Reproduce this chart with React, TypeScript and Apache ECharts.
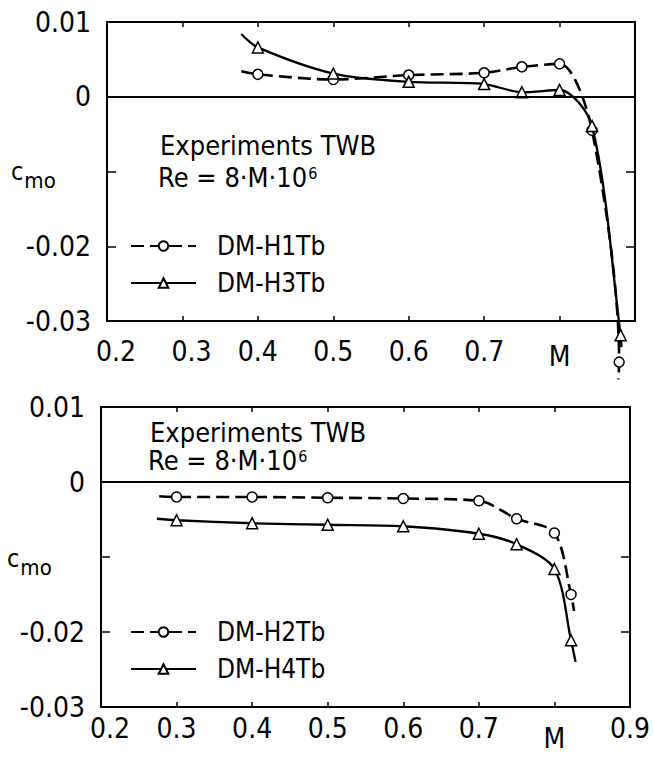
import React, { useEffect, useRef } from "react";
import * as echarts from "echarts";

// Mach number axis and pitching-moment axis
const machMin = 0.2;
const machMax = 0.9;
const machStep = 0.1;
const cmoMin = -0.03;
const cmoMax = 0.01;
const cmoStep = 0.01;

// Upper panel: DM-H1Tb (dashed, circles) and DM-H3Tb (solid, triangles)
const h1tbMach = [0.378, 0.4, 0.5, 0.6, 0.7, 0.75, 0.8, 0.843, 0.879, 0.878];
const h1tbCmo = [0.0034, 0.003, 0.0023, 0.0029, 0.0032, 0.004, 0.0044, -0.0045, -0.0355, -0.0378];
const h1tbMeasured = [false, true, true, true, true, true, true, true, true, false];

const h3tbMach = [0.378, 0.4, 0.5, 0.6, 0.7, 0.75, 0.8, 0.843, 0.881, 0.882];
const h3tbCmo = [0.0084, 0.0066, 0.0031, 0.002, 0.0017, 0.0006, 0.0009, -0.0039, -0.0319, -0.0335];
const h3tbMeasured = [false, true, true, true, true, true, true, true, true, false];

// Lower panel: DM-H2Tb (dashed, circles) and DM-H4Tb (solid, triangles)
const h2tbMach = [0.277, 0.3, 0.4, 0.5, 0.6, 0.7, 0.75, 0.8, 0.822, 0.826];
const h2tbCmo = [-0.0019, -0.002, -0.002, -0.0021, -0.0022, -0.0025, -0.0049, -0.0068, -0.015, -0.0172];
const h2tbMeasured = [false, true, true, true, true, true, true, true, true, false];

const h4tbMach = [0.274, 0.3, 0.4, 0.5, 0.6, 0.7, 0.75, 0.8, 0.822, 0.828];
const h4tbCmo = [-0.0049, -0.0051, -0.0055, -0.0057, -0.0059, -0.0069, -0.0083, -0.0116, -0.0211, -0.024];
const h4tbMeasured = [false, true, true, true, true, true, true, true, true, false];

// Tick labels
const cmoLabels: Record<string, string> = { "1": "0.01", "0": "0", "-2": "-0.02", "-3": "-0.03" };
const upperMachLabels: Record<string, string> = {
  "2": "{s|0.2}", "3": "{s|0.3}", "4": "0.4", "5": "0.5", "6": "0.6", "7": "0.7", "8": "{m|M}", "9": "",
};
const lowerMachLabels: Record<string, string> = {
  "2": "{s|0.2}", "3": "0.3", "4": "0.4", "5": "0.5", "6": "0.6", "7": "0.7", "8": "{m|M}", "9": "0.9",
};

const headline = "Experiments TWB";
const reynolds = "Re = 8·M·10";
const reynoldsExp = "6";

const FONT = "'DejaVu Sans Condensed', 'DejaVu Sans', sans-serif";
const BLACK = "#000";

function points(mach: number[], cmo: number[], measured: boolean[]) {
  return mach.map((m, i) => (measured[i] ? [m, cmo[i]] : { value: [m, cmo[i]], symbol: "none" }));
}

function buildAxes(grid: number, labels: Record<string, string>, labelMargin: number, mShift: number) {
  const tick = { show: true, inside: true, lineStyle: { color: BLACK, width: 1.5 } };
  const line = { show: true, onZero: false, lineStyle: { color: BLACK, width: 2 } };
  const x = [
    {
      type: "value", gridIndex: grid, position: "bottom", min: machMin, max: machMax, interval: machStep,
      axisLine: line, axisTick: { ...tick, length: 5 }, splitLine: { show: false },
      axisLabel: {
        show: true, margin: labelMargin, color: BLACK, fontFamily: FONT, fontSize: 28, lineHeight: 30,
        showMinLabel: true, showMaxLabel: true, hideOverlap: false,
        formatter: (v: number) => labels[String(Math.round(v * 10))] ?? "",
        rich: {
          s: { fontFamily: FONT, fontSize: 28, lineHeight: 30, color: BLACK, padding: [0, 0, 0, 18] },
          m: { fontFamily: FONT, fontSize: 28, lineHeight: 26, color: BLACK, padding: [mShift, 0, 0, 0] },
        },
      },
    },
    {
      type: "value", gridIndex: grid, position: "top", min: machMin, max: machMax, interval: machStep,
      axisLine: line, axisTick: { ...tick, length: 5 }, splitLine: { show: false }, axisLabel: { show: false },
    },
  ];
  const y = [
    {
      type: "value", gridIndex: grid, position: "left", min: cmoMin, max: cmoMax, interval: cmoStep,
      axisLine: line, axisTick: { ...tick, length: 9 }, splitLine: { show: false },
      axisLabel: {
        show: true, margin: 16, color: BLACK, fontFamily: FONT, fontSize: 28,
        showMinLabel: true, showMaxLabel: true,
        formatter: (v: number) => cmoLabels[String(Math.round(v * 100))] ?? "",
      },
    },
    {
      type: "value", gridIndex: grid, position: "right", min: cmoMin, max: cmoMax, interval: cmoStep,
      axisLine: line, axisTick: { ...tick, length: 9 }, splitLine: { show: false }, axisLabel: { show: false },
    },
  ];
  return { x, y };
}

function curve(name: string, data: any[], axis: number, dashed: boolean, zeroLine: boolean) {
  return {
    name,
    type: "line",
    xAxisIndex: axis,
    yAxisIndex: axis,
    data,
    clip: false,
    smooth: 0.3,
    symbol: dashed ? "circle" : "triangle",
    symbolSize: dashed ? 10 : 11,
    itemStyle: { color: "#fff", borderColor: BLACK, borderWidth: 1.5 },
    lineStyle: { color: BLACK, width: dashed ? 2.6 : 2.3, type: dashed ? [13, 6] : "solid" },
    z: dashed ? 3 : 4,
    markLine: zeroLine
      ? {
          silent: true,
          symbol: ["none", "none"],
          label: { show: false },
          lineStyle: { color: BLACK, width: 2, type: "solid" },
          data: [{ yAxis: 0 }],
        }
      : undefined,
  };
}

function legendRow(name: string, top: number) {
  return {
    data: [name],
    left: 130,
    top: top - 15,
    padding: 0,
    itemWidth: 65,
    itemHeight: 12,
    selectedMode: false,
    textStyle: { color: BLACK, fontFamily: FONT, fontSize: 26, lineHeight: 30, padding: [0, 0, 0, 16] },
  };
}

function textBlock(x: number, y: number, fontSize: number, gap: number) {
  return [
    {
      type: "text", x, y,
      style: { text: headline, fill: BLACK, fontFamily: FONT, fontSize, lineHeight: 26, verticalAlign: "middle" },
    },
    {
      type: "text", x: x - 2, y: y + gap,
      style: {
        text: `{a|${reynolds}}{e|${reynoldsExp}}`,
        verticalAlign: "middle",
        rich: {
          a: { fill: BLACK, fontFamily: FONT, fontSize, lineHeight: 26, verticalAlign: "bottom" },
          e: { fill: BLACK, fontFamily: FONT, fontSize: 16, lineHeight: 26, verticalAlign: "top", padding: [0, 0, 0, 1] },
        },
      },
    },
  ];
}

function cmoTitle(x: number, y: number) {
  return {
    type: "text", x, y,
    style: {
      text: "{c|c}{m|mo}",
      verticalAlign: "middle",
      rich: {
        c: { fill: BLACK, fontFamily: FONT, fontSize: 25, lineHeight: 32, verticalAlign: "top" },
        m: { fill: BLACK, fontFamily: FONT, fontSize: 22, lineHeight: 32, verticalAlign: "bottom", padding: [0, 0, 0, 1] },
      },
    },
  };
}

export default function App() {
  const ref = useRef<HTMLDivElement>(null);

  useEffect(() => {
    if (!ref.current) return;
    const chart = echarts.init(ref.current, undefined, { renderer: "svg" });
    const upper = buildAxes(0, upperMachLabels, 15, 14);
    const lower = buildAxes(1, lowerMachLabels, 6, 24);
    chart.setOption({
      animation: false,
      backgroundColor: "#fff",
      grid: [
        { left: 107, top: 22, width: 528, height: 299, show: false },
        { left: 101, top: 407, width: 530, height: 300, show: false },
      ],
      xAxis: [...upper.x, ...lower.x],
      yAxis: [...upper.y, ...lower.y],
      legend: [
        legendRow("DM-H1Tb", 246),
        legendRow("DM-H3Tb", 283),
        legendRow("DM-H2Tb", 632),
        legendRow("DM-H4Tb", 669),
      ],
      graphic: [
        ...textBlock(160, 145, 27, 33),
        ...textBlock(150, 432, 27, 29),
        cmoTitle(11, 175),
        cmoTitle(7, 562),
      ],
      series: [
        curve("DM-H1Tb", points(h1tbMach, h1tbCmo, h1tbMeasured), 0, true, true),
        curve("DM-H3Tb", points(h3tbMach, h3tbCmo, h3tbMeasured), 0, false, false),
        curve("DM-H2Tb", points(h2tbMach, h2tbCmo, h2tbMeasured), 2, true, true),
        curve("DM-H4Tb", points(h4tbMach, h4tbCmo, h4tbMeasured), 2, false, false),
      ],
    });
    return () => chart.dispose();
  }, []);

  return (
    <div
      ref={ref}
      style={{ position: "fixed", left: 0, top: 0, width: 653, height: 759, background: "#fff" }}
    />
  );
}
